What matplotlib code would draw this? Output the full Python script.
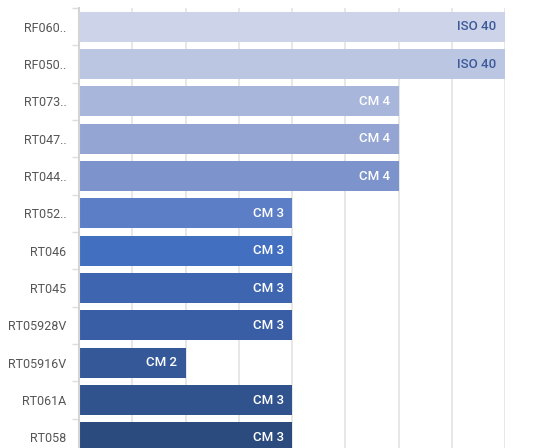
import matplotlib
matplotlib.use('Agg')
import numpy as np
import matplotlib.pyplot as plt

# Categories (top to bottom) and their values / labels
categories = ['RF060..', 'RF050..', 'RT073..', 'RT047..', 'RT044..', 'RT052..',
              'RT046', 'RT045', 'RT05928V', 'RT05916V', 'RT061A', 'RT058']
values = [8, 8, 6, 6, 6, 4, 4, 4, 4, 2, 4, 4]
bar_labels = ['ISO 40', 'ISO 40', 'CM 4', 'CM 4', 'CM 4', 'CM 3',
              'CM 3', 'CM 3', 'CM 3', 'CM 2', 'CM 3', 'CM 3']
colors = ['#cdd4e9', '#bbc6e2', '#a9b6dc', '#94a5d4', '#7c93cc', '#5b7ec6',
          '#426fbf', '#3d65b0', '#3a5ea6', '#355899', '#30528d', '#2b4a7e']
label_colors = ['#3d5a99', '#3d5a99', 'white', 'white', 'white', 'white',
                'white', 'white', 'white', 'white', 'white', 'white']

plt.rcParams['font.family'] = ['Roboto', 'DejaVu Sans']

W, H = 548, 448
fig = plt.figure(figsize=(W / 100, H / 100), dpi=100)
# axes runs slightly below the bottom of the picture (last bar is clipped)
left, right, top, bottom = 79, 505, 8, 456
ax = fig.add_axes([left / W, (H - bottom) / H, (right - left) / W, (bottom - top) / H])

y = np.arange(len(categories))
ax.barh(y, values, height=0.8, color=colors, zorder=2)
ax.set_xlim(0, 8)
ax.set_ylim(len(categories) - 0.5, -0.5)

for yi, v, lab, c in zip(y, values, bar_labels, label_colors):
    ax.annotate(lab, (v, yi), xytext=(-6, 0), textcoords='offset points',
                ha='right', va='center', color=c, fontsize=9.5, fontweight='medium')

ax.set_xticks(np.arange(0, 9, 1))
ax.grid(axis='x', color='#e3e3e3', linewidth=1.2, zorder=0)
ax.tick_params(axis='x', length=0, labelbottom=False)

ax.set_yticks(y)
ax.set_yticklabels(categories, fontsize=9, color='#555555')
ax.set_yticks(np.arange(-0.5, len(categories), 1), minor=True)
ax.tick_params(axis='y', which='major', length=0, pad=9)
ax.tick_params(axis='y', which='minor', length=5, color='#dddddd', width=1)

for s in ['top', 'right', 'bottom']:
    ax.spines[s].set_visible(False)
ax.spines['left'].set_color('#d4d4d4')
ax.spines['left'].set_linewidth(1.5)

fig.savefig('out.png', dpi=100)
